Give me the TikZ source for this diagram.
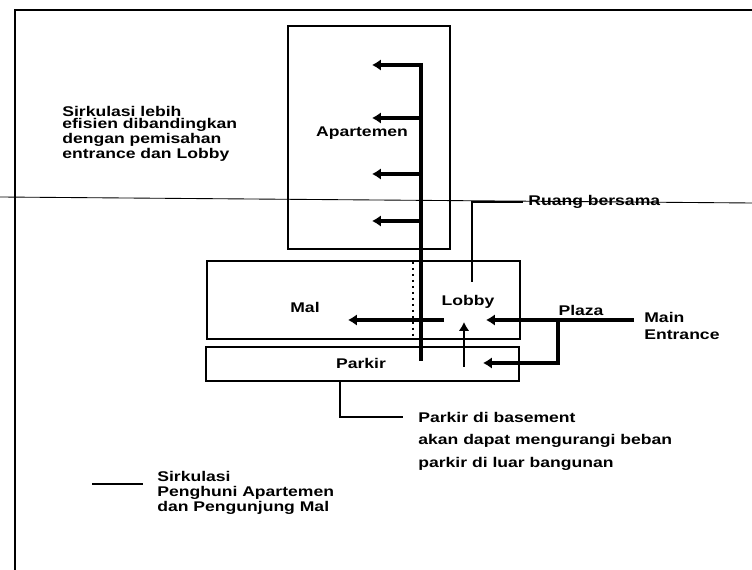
\documentclass[tikz,border=0pt]{standalone}
\usepackage{fontspec}
\setmainfont[FakeStretch=1.25]{Liberation Sans}
\usetikzlibrary{arrows.meta}

\tikzset{
  bangunan/.style={line width=1.1pt},
  sirkulasi/.style={line width=2.6pt, -{Latex[length=5pt,width=6.5pt]}},
  teks/.style={font=\bfseries\fontsize{8}{7}\selectfont, inner sep=0pt, align=left},
}

\begin{document}
\begin{tikzpicture}[x=0.02cm,y=-0.02cm]
        \useasboundingbox (0,0) rectangle (752,570);

        % Bingkai halaman
        \draw[line width=1.2pt] (752,10) -- (15,10) -- (15,570);
        % Garis tipis melintang (hasil pindaian)
        \draw[line width=0.5pt] (0,197) -- (752,203);

        % Massa bangunan
        \draw[bangunan] (288,26) rectangle (450,249);
        \draw[bangunan] (207,261) rectangle (520,339);
        \draw[bangunan] (206,347) rectangle (519,381);
        \draw[line width=1.4pt, dotted] (413,262) -- (413,338);

        % Titik-titik sirkulasi
        \coordinate (V1) at (421,63);
        \coordinate (V2) at (421,361);
        \coordinate (ME) at (634,320);
        \coordinate (P1) at (558,320);
        \coordinate (P2) at (558,363);

        % Sirkulasi vertikal apartemen
        \draw[line width=2.6pt] (V1) -- (V2);
        \foreach \y in {65,118,174,221}
            \draw[sirkulasi] (421,\y) -- (372,\y);

        % Sirkulasi ke Mal dan Lobby
        \draw[sirkulasi] (444,320) -- (348,320);
        \draw[line width=1.3pt, -{Latex[length=5pt,width=6pt]}] (464,367) -- (464,322);
        \draw[sirkulasi] (ME) -- (486,320);
        \draw[sirkulasi] (P1) -- (P2) -- (483,363);

        % Label ruang
        \node[teks] (apt) at (362,133) {Apartemen};
        \node[teks] (mal) at (305,307) {Mal};
        \node[teks] (lobby) at (468,302) {Lobby};
        \node[teks] (parkir) at (361,363) {Parkir};
        \node[teks] (plaza) at (581,310) {Plaza};
        \node[teks, anchor=west, font=\bfseries\fontsize{8}{9.6}\selectfont] (utama) at (644,326) {Main\\Entrance};

        % Keterangan
        \node[teks, anchor=west] (ket1) at (62,134)
            {Sirkulasi lebih\\efisien dibandingkan\\dengan pemisahan\\entrance dan Lobby};
        \node[teks, anchor=west] (ruang) at (528,202) {Ruang bersama};
        \node[teks, anchor=west, font=\bfseries\fontsize{8}{12.8}\selectfont] (ket2) at (418,441)
            {Parkir di basement\\akan dapat mengurangi beban\\parkir di luar bangunan};

        % Garis penunjuk
        \coordinate (L1) at (472,282);
        \coordinate (L2) at (523,202);
        \draw[line width=0.9pt] (L1) |- (L2);
        \coordinate (K1) at (340,381);
        \coordinate (K2) at (403,417);
        \draw[line width=0.9pt] (K1) |- (K2);

        % Legenda
        \coordinate (G1) at (92,484);
        \coordinate (G2) at (143,484);
        \draw[line width=1.6pt] (G1) -- (G2);
        \node[teks, anchor=west, font=\bfseries\fontsize{8}{8.4}\selectfont] (leg) at (157,493)
            {Sirkulasi\\Penghuni Apartemen\\dan Pengunjung Mal};
    \end{tikzpicture}
\end{document}
